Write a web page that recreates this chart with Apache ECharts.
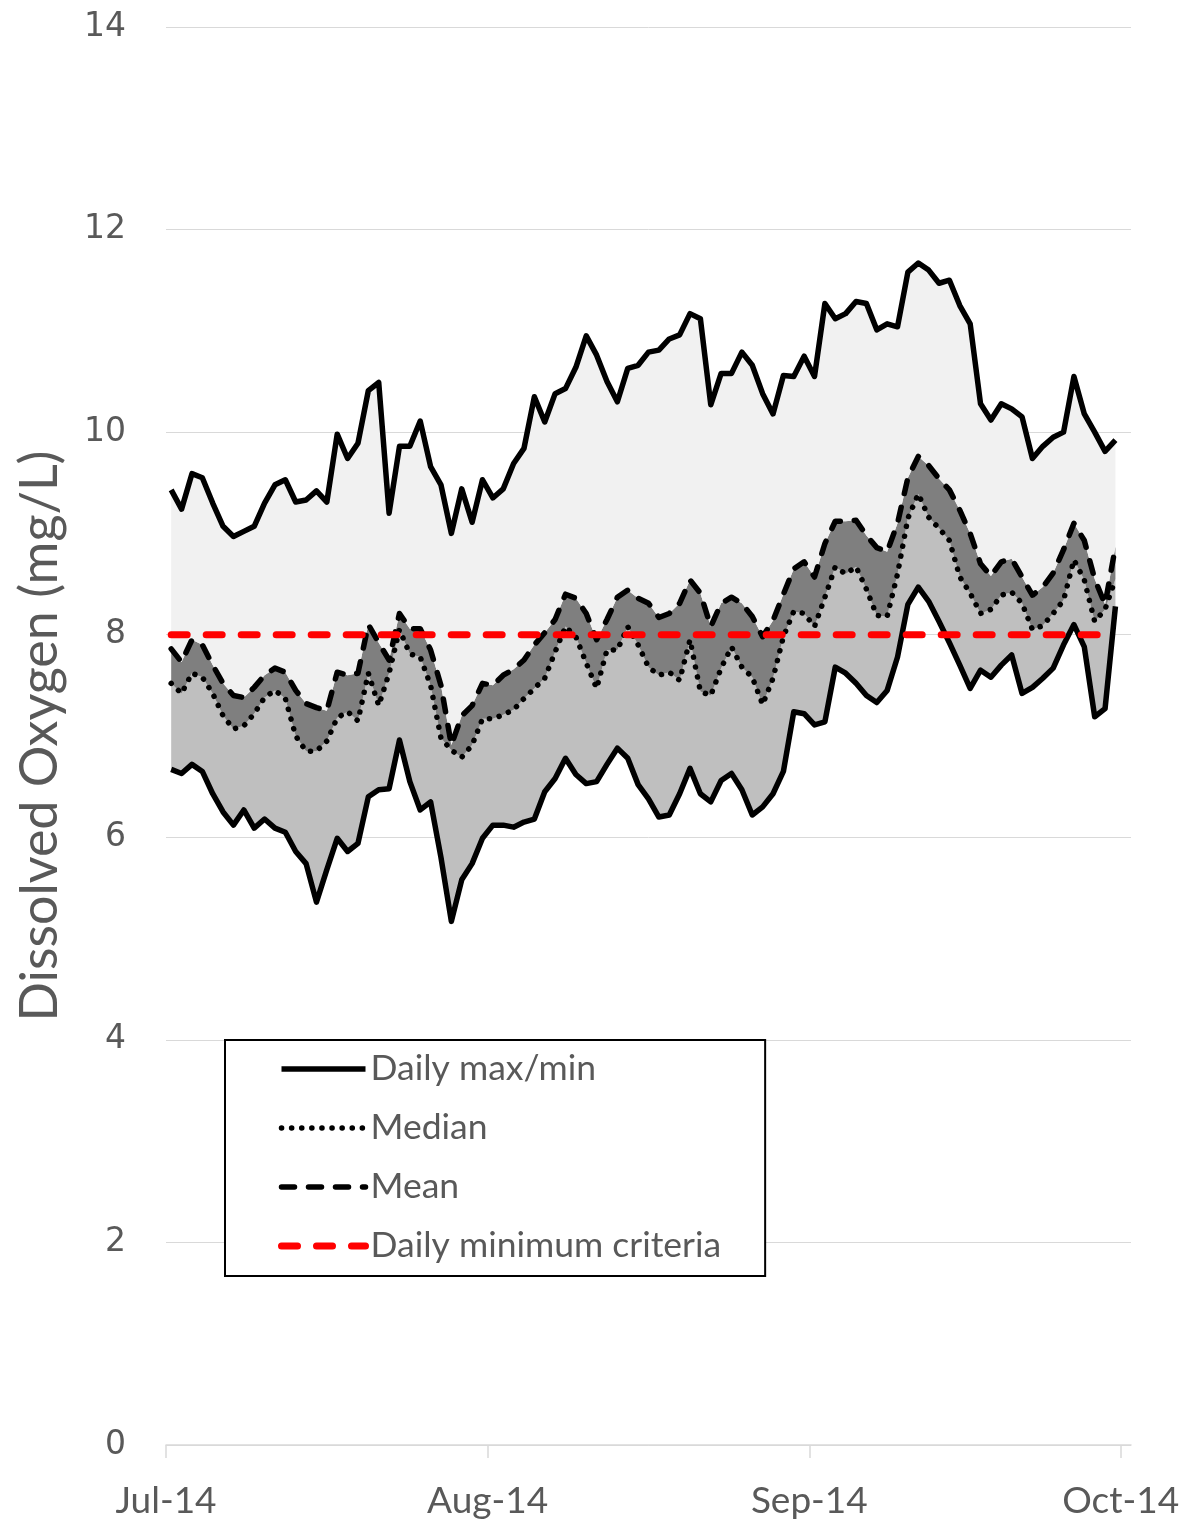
<!DOCTYPE html>
<html><head><meta charset="utf-8">
<script src="https://cdn.jsdelivr.net/npm/echarts@6/dist/echarts.min.js"></script>
<style>html,body{margin:0;padding:0;background:#fff}#c{width:1194px;height:1526px}</style>
</head><body><div id="c"></div>
<script>
// Daily values, 1 Jul 2014 .. 30 Sep 2014 (92 days)
const maxDO = [9.43,9.24,9.59,9.55,9.30,9.07,8.97,9.02,9.07,9.30,
 9.48,9.53,9.31,9.33,9.42,9.31,9.98,9.74,9.89,10.41,
 10.49,9.20,9.86,9.86,10.11,9.66,9.48,9.00,9.44,9.11,
 9.53,9.35,9.44,9.69,9.84,10.35,10.10,10.38,10.43,10.64,
 10.95,10.76,10.50,10.30,10.63,10.66,10.79,10.81,10.92,10.96,
 11.17,11.12,10.27,10.58,10.58,10.79,10.66,10.38,10.18,10.56,
 10.55,10.75,10.55,11.27,11.12,11.17,11.29,11.27,11.01,11.07,
 11.04,11.58,11.67,11.60,11.47,11.50,11.25,11.07,10.28,10.12,
 10.28,10.23,10.15,9.74,9.86,9.95,10.00,10.55,10.18,10.00,
 9.81,9.92];
const minDO = [6.67,6.63,6.72,6.65,6.43,6.25,6.12,6.27,6.09,6.18,
 6.09,6.05,5.86,5.74,5.36,5.68,5.99,5.86,5.94,6.40,
 6.47,6.48,6.96,6.55,6.27,6.35,5.80,5.17,5.58,5.74,
 5.99,6.12,6.12,6.10,6.15,6.18,6.45,6.58,6.78,6.62,
 6.53,6.55,6.72,6.88,6.78,6.52,6.38,6.20,6.22,6.43,
 6.68,6.43,6.35,6.56,6.63,6.47,6.22,6.30,6.43,6.65,
 7.24,7.22,7.11,7.14,7.68,7.62,7.52,7.40,7.33,7.45,
 7.78,8.30,8.47,8.33,8.13,7.92,7.70,7.47,7.65,7.58,
 7.70,7.80,7.42,7.48,7.57,7.67,7.90,8.10,7.88,7.19,
 7.27,8.28];
const meanDO = [7.86,7.73,7.95,7.90,7.70,7.52,7.40,7.38,7.48,7.60,
 7.67,7.63,7.45,7.32,7.28,7.25,7.63,7.60,7.62,8.10,
 7.92,7.75,8.21,8.06,8.06,7.85,7.50,6.91,7.20,7.30,
 7.52,7.50,7.60,7.66,7.75,7.90,8.02,8.15,8.40,8.36,
 8.21,7.95,8.15,8.37,8.44,8.36,8.31,8.17,8.21,8.31,
 8.54,8.41,8.08,8.31,8.37,8.31,8.18,7.98,8.14,8.40,
 8.65,8.72,8.57,8.90,9.12,9.12,9.13,8.98,8.86,8.82,
 9.10,9.55,9.76,9.67,9.54,9.43,9.23,9.00,8.70,8.58,
 8.72,8.75,8.57,8.39,8.47,8.61,8.84,9.10,8.93,8.55,
 8.30,8.87];
const medianDO = [7.52,7.42,7.62,7.58,7.42,7.20,7.07,7.10,7.22,7.38,
 7.45,7.37,7.00,6.85,6.85,6.95,7.18,7.24,7.15,7.62,
 7.30,7.62,8.05,7.81,7.78,7.50,6.98,6.86,6.79,6.91,
 7.17,7.17,7.21,7.26,7.37,7.47,7.57,7.83,8.08,7.98,
 7.72,7.47,7.85,7.85,8.08,7.90,7.68,7.60,7.63,7.55,
 7.95,7.44,7.40,7.67,7.88,7.68,7.58,7.31,7.57,7.98,
 8.23,8.21,8.08,8.37,8.67,8.60,8.67,8.45,8.19,8.18,
 8.60,9.15,9.39,9.16,9.05,8.93,8.57,8.41,8.21,8.25,
 8.39,8.42,8.31,8.05,8.09,8.21,8.34,8.74,8.54,8.13,
 8.25,8.55];
const criteriaDO = 8;
const tickDays = [0, 31, 62, 92];
const tickLabels = ['Jul-14', 'Aug-14', 'Sep-14', 'Oct-14'];
const yTicks = {min: 0, max: 14, step: 2};

const pts = arr => arr.map((v, i) => [i + 0.5, v]);
// filled band between two series, drawn as one polygon through the axes' scales
const band = (lower, upper, color) => ({
  type: 'custom', silent: true, z: 1,
  data: pts(upper), encode: {x: 0, y: 1},
  renderItem: (params, api) => {
    if (params.dataIndex !== 0) return;
    const top = upper.map((v, i) => api.coord([i + 0.5, v]));
    const bot = lower.map((v, i) => api.coord([i + 0.5, v])).reverse();
    return {type: 'polygon', shape: {points: top.concat(bot)}, style: {fill: color, stroke: null}};
  }
});
const textColor = '#595959';

const chart = echarts.init(document.getElementById('c'), null, {renderer: 'canvas'});
chart.setOption({
  animation: false,
  backgroundColor: '#fff',
  grid: {left: 166, top: 27, width: 965, height: 1418},
  xAxis: {
    type: 'value', min: 0, max: 93,
    axisLine: {lineStyle: {color: '#d9d9d9', width: 1.5}},
    axisTick: {customValues: tickDays, length: 13, lineStyle: {color: '#d9d9d9', width: 1.5}},
    axisLabel: {customValues: tickDays, formatter: v => tickLabels[tickDays.indexOf(v)],
      fontFamily: 'Lato', fontSize: 37, color: textColor, margin: 38},
    splitLine: {show: false}
  },
  yAxis: {
    type: 'value', min: yTicks.min, max: yTicks.max, interval: yTicks.step,
    axisLine: {show: false}, axisTick: {show: false},
    axisLabel: {fontFamily: 'DejaVu Sans', fontSize: 33, color: textColor, margin: 40},
    splitLine: {lineStyle: {color: '#d9d9d9', width: 1}},
    name: 'Dissolved Oxygen (mg/L)', nameLocation: 'middle', nameGap: 100,
    nameTextStyle: {fontFamily: 'Lato', fontSize: 52, color: textColor}
  },
  legend: {
    data: ['Daily max/min', 'Median', 'Mean', 'Daily minimum criteria'],
    orient: 'vertical', left: 225, top: 1040,
    itemWidth: 84, itemHeight: 20, itemGap: 23,
    padding: [11, 44, 12, 53],
    borderColor: '#000', borderWidth: 2, backgroundColor: '#fff',
    textStyle: {fontFamily: 'Lato', fontSize: 35.5, color: textColor},
    itemStyle: {color: 'rgba(0,0,0,0)', borderWidth: 0},
    lineStyle: {width: 'inherit'}
  },
  series: [
    band(minDO, medianDO, '#bfbfbf'),
    band(medianDO, meanDO, '#7f7f7f'),
    band(meanDO, maxDO, '#f1f1f1'),
    {type: 'line', name: 'Daily max/min', data: pts(maxDO), symbol: 'none', z: 3,
      color: '#000', lineStyle: {color: '#000', width: 5.5, join: 'round'}},
    {type: 'line', name: 'Daily max/min', data: pts(minDO), symbol: 'none', z: 3,
      color: '#000', lineStyle: {color: '#000', width: 5.5, join: 'round'}},
    {type: 'line', name: 'Median', data: pts(medianDO), symbol: 'none', z: 3,
      color: '#000', lineStyle: {color: '#000', width: 5.5, type: [0.1, 10], cap: 'round', join: 'round'}},
    {type: 'line', name: 'Mean', data: pts(meanDO), symbol: 'none', z: 3,
      color: '#000', lineStyle: {color: '#000', width: 5.5, type: [13, 14], cap: 'round', join: 'round'}},
    {type: 'line', name: 'Daily minimum criteria', symbol: 'none', z: 4,
      data: [[0.5, criteriaDO], [meanDO.length - 0.5, criteriaDO]],
      color: '#ff0000', lineStyle: {color: '#ff0000', width: 7, type: [16, 19], cap: 'round'}}
  ]
});
</script></body></html>
